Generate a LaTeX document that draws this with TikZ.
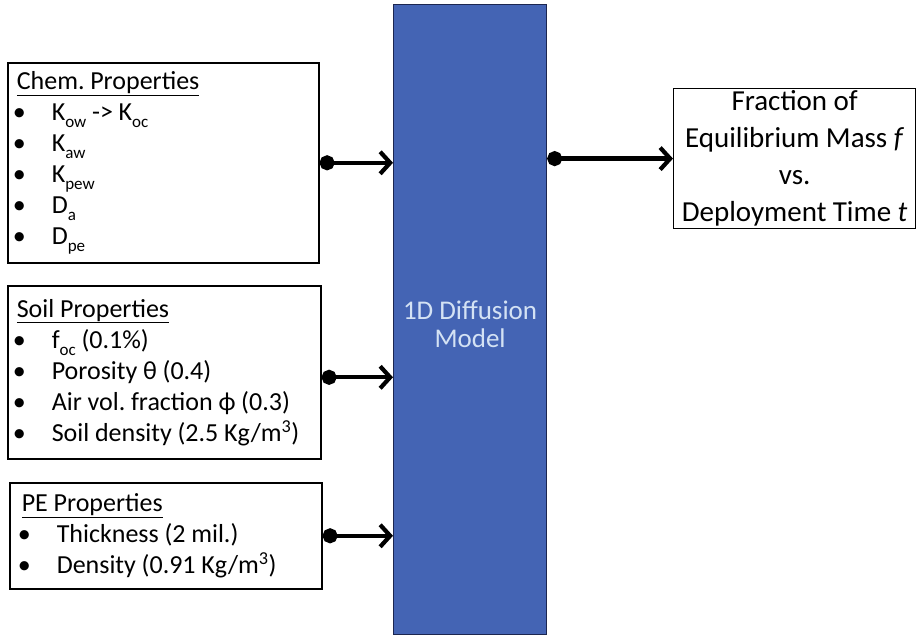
\documentclass[tikz,border=0pt]{standalone}
\usepackage{fontspec}
\setmainfont{Carlito}
\usetikzlibrary{arrows.meta}
\frenchspacing
\definecolor{modelblue}{RGB}{68,100,180}
\definecolor{modeledge}{RGB}{28,38,80}
\definecolor{modeltext}{RGB}{212,226,244}
\newcommand{\bul}[1]{\makebox[35pt][l]{\hspace{-4pt}•}#1\par}
\newcommand{\lsub}[1]{\raisebox{-7pt}{\fontsize{17}{17}\selectfont #1}}
\newcommand{\tightsp}{\spaceskip=0.22em plus 0.05em\relax\xspaceskip=0.22em\relax}
\tikzset{
  x=1pt, y=-1pt,
  propbox/.style={draw=black, line width=1.6pt, anchor=north west,
    inner xsep=9pt, inner ysep=2pt, font=\fontsize{26}{31}\selectfont,
    execute at begin node={\raggedright\tightsp}},
  modelbox/.style={draw=modeledge, line width=1.2pt, fill=modelblue, anchor=north west,
    text=modeltext, font=\fontsize{27}{28}\selectfont, inner sep=0pt},
  outbox/.style={draw=black, line width=1.2pt, anchor=north west, text width=238pt,
    inner sep=1pt, font=\fontsize{29}{37}\selectfont,
    execute at begin node={\centering\tightsp}},
  conn/.style={line width=4.2pt, {Circle[length=15pt]}-{Straight Barb[length=10pt,width=22pt,line width=4.2pt]}}
}
\begin{document}
\begin{tikzpicture}
\useasboundingbox (0,0) rectangle (919,636);
\node[modelbox, minimum width=153pt, minimum height=630pt] (model) at (393,4) {\raisebox{-15pt}[0pt][0pt]{\fontsize{27}{28}\selectfont\tightsp\begin{tabular}{@{}c@{}}1D Diffusion\\Model\end{tabular}}};
\node[propbox, minimum width=311pt, minimum height=200pt, text width=293pt] (chem) at (7,62) {%
\underline{Chem. Properties}\par
\bul{K\lsub{ow} -> K\lsub{oc}}
\bul{K\lsub{aw}}
\bul{K\lsub{pew}}
\bul{D\lsub{a}}
\bul{D\lsub{pe}}};
\node[propbox, minimum width=313pt, minimum height=173pt, text width=295pt] (soil) at (7,285) {%
\underline{Soil Properties}\par
\bul{f\lsub{oc} (0.1\%)}
\bul{Porosity θ (0.4)}
\bul{Air vol. fraction ϕ (0.3)}
\bul{Soil density (2.5 Kg/m\textsuperscript{3})}};
\node[propbox, minimum width=312pt, minimum height=106pt, text width=288pt, inner xsep=12pt] (pe) at (9,482) {%
\underline{PE Properties}\par
\bul{Thickness (2 mil.)}
\bul{Density (0.91 Kg/m\textsuperscript{3})}};
\node[outbox, minimum width=242pt, minimum height=140pt] (out) at (673,88) {Fraction of\\Equilibrium Mass \textit{f}\\vs.\\Deployment Time \textit{t}\par};
\draw[conn] (chem.east) -- (chem.east -| model.west);
\draw[conn] ([yshift=-5pt]soil.east) -- ([yshift=-5pt]soil.east -| model.west);
\draw[conn] (pe.east) -- (pe.east -| model.west);
\draw[conn] (model.east |- out.west) -- (out.west);
\end{tikzpicture}
\end{document}
